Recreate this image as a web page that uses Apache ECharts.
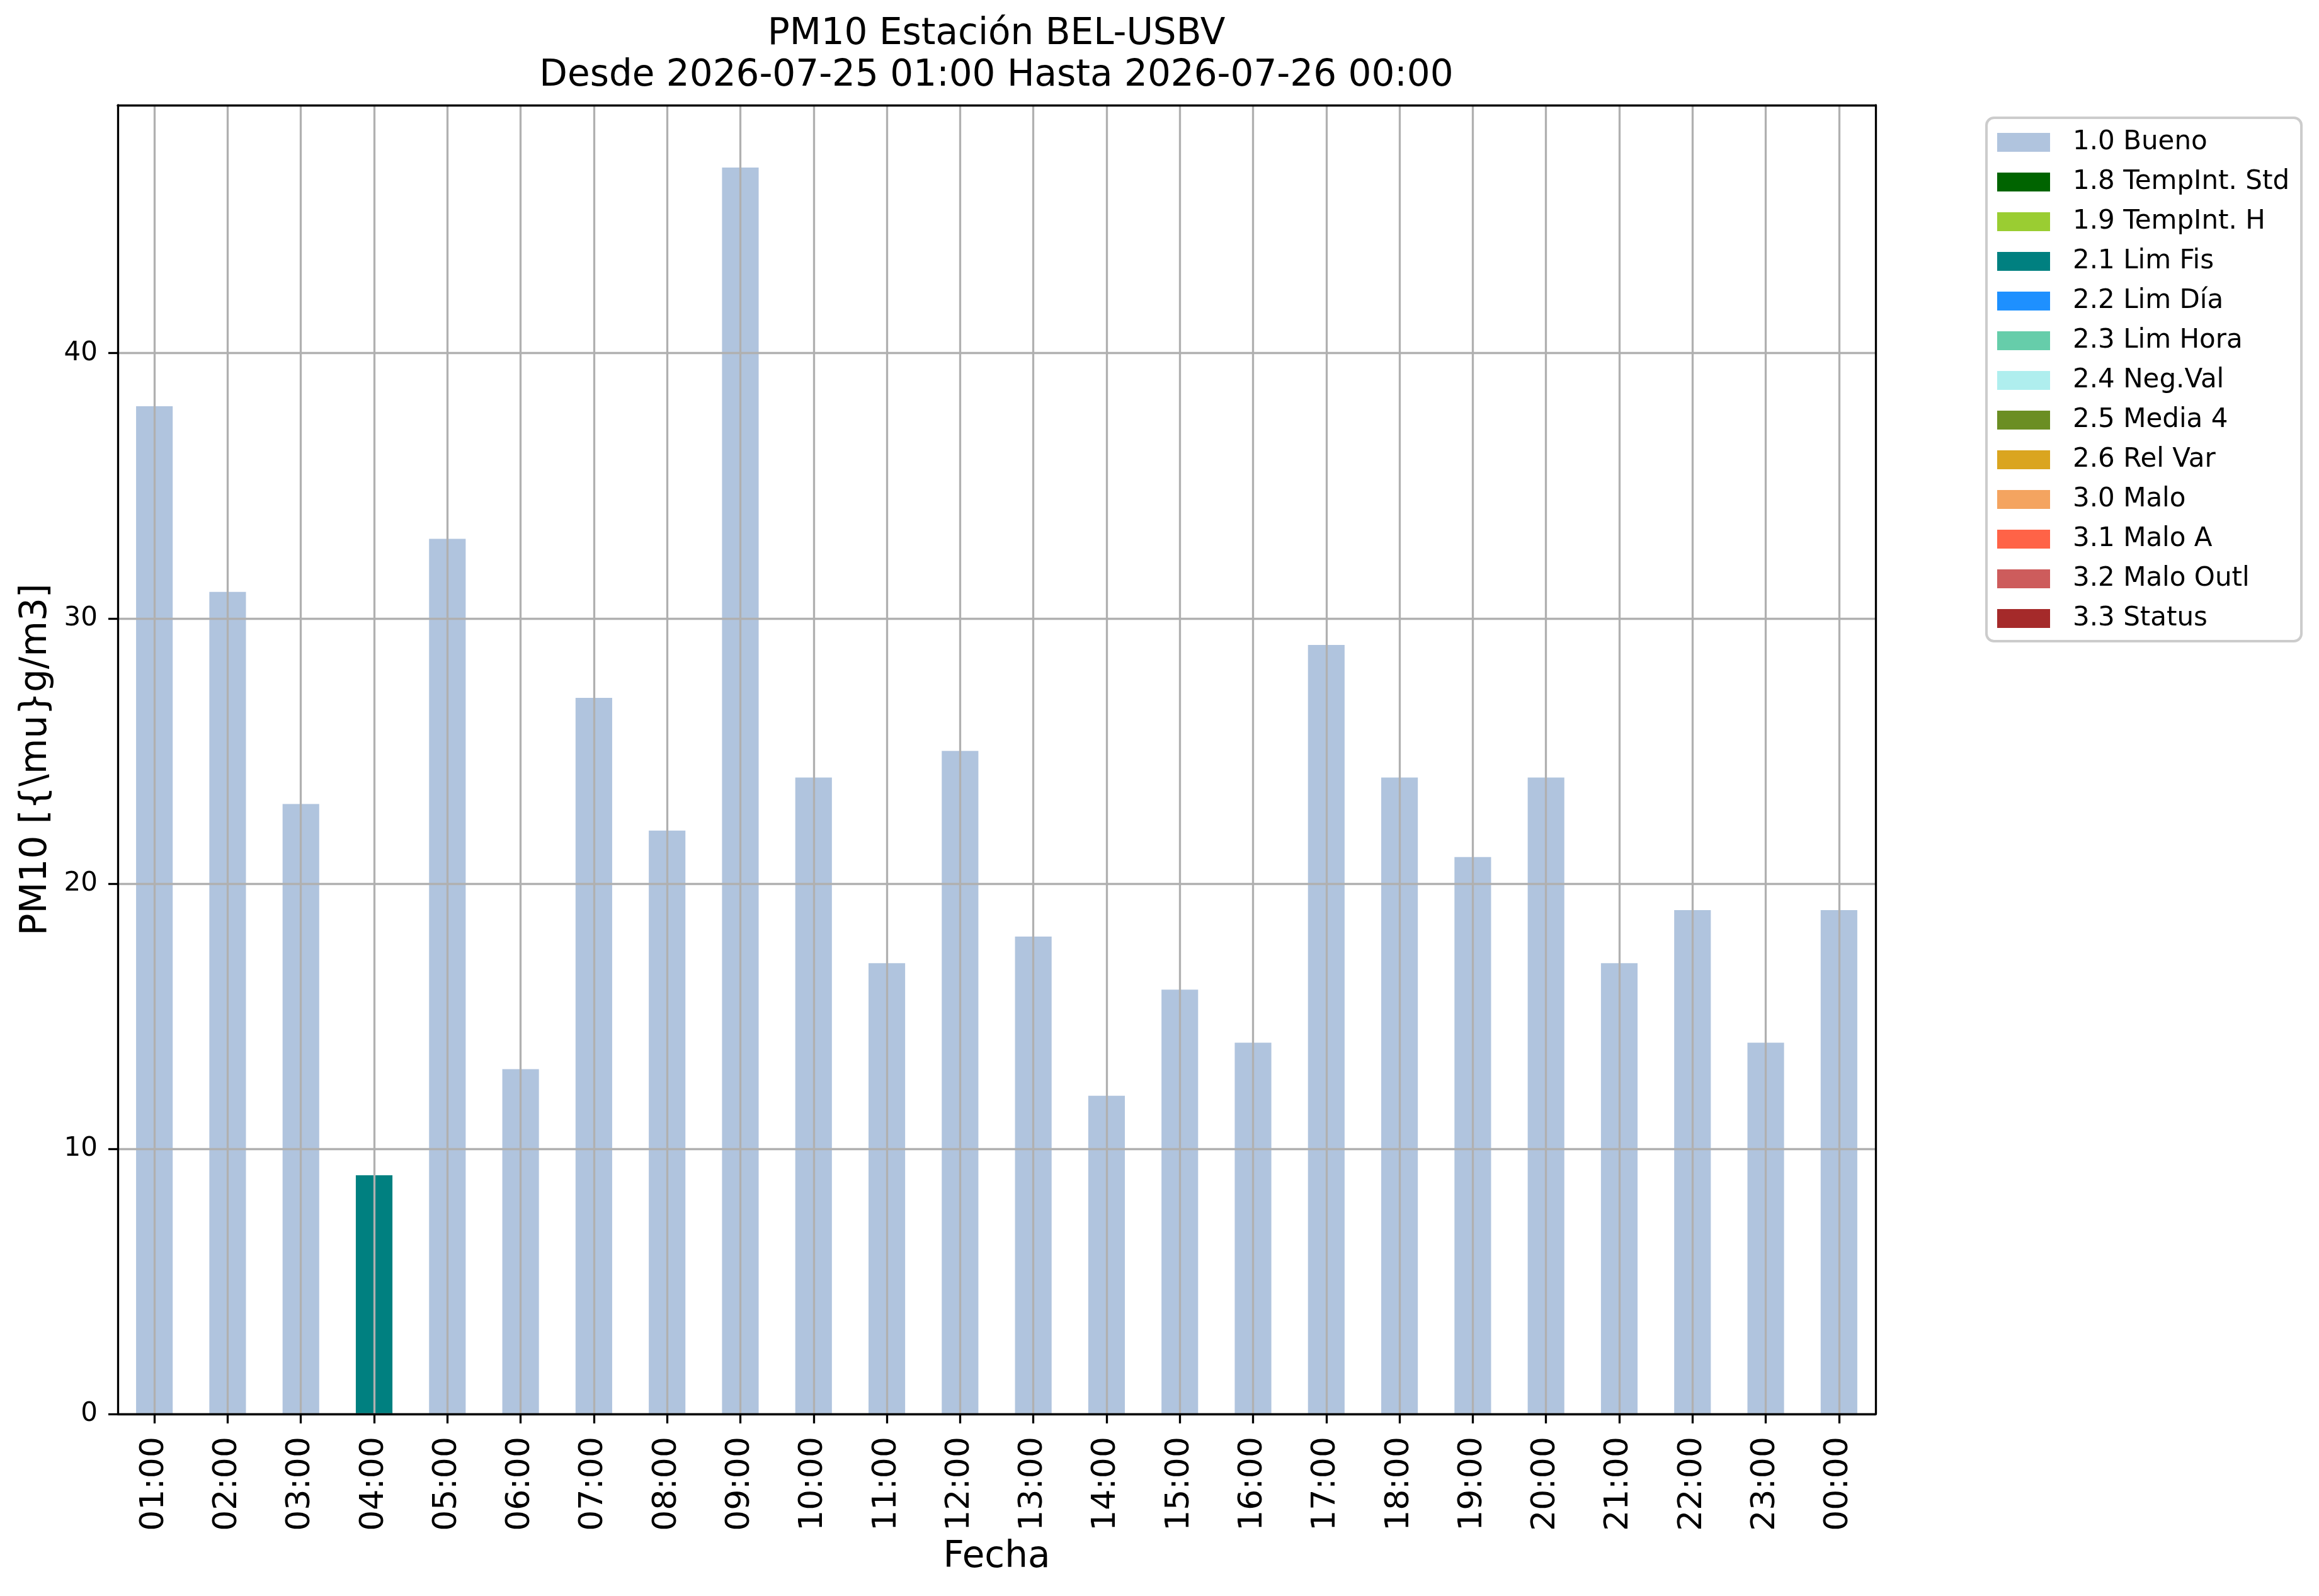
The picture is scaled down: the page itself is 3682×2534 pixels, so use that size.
<!DOCTYPE html>
<html>
<head>
<meta charset="utf-8">
<script src="https://cdn.jsdelivr.net/npm/echarts@6/dist/echarts.min.js"></script>
<style>
  html, body { margin: 0; padding: 0; background: #fff; }
  #chartArea { width: 3682px; height: 2534px; }
</style>
</head>
<body>
<div id="chartArea"></div>
<script>
// horas y valores
const hours = ['01:00', '02:00', '03:00', '04:00', '05:00', '06:00', '07:00', '08:00',
    '09:00', '10:00', '11:00', '12:00', '13:00', '14:00', '15:00', '16:00',
    '17:00', '18:00', '19:00', '20:00', '21:00', '22:00', '23:00', '00:00'];
const pm10 = [38, 31, 23, 9, 33, 13, 27, 22, 47, 24, 17, 25, 18, 12, 16, 14,
    29, 24, 21, 24, 17, 19, 14, 19];
// bandera de calidad de cada hora
const flags = ['1.0', '1.0', '1.0', '2.1', '1.0', '1.0', '1.0', '1.0',
    '1.0', '1.0', '1.0', '1.0', '1.0', '1.0', '1.0', '1.0',
    '1.0', '1.0', '1.0', '1.0', '1.0', '1.0', '1.0', '1.0'];

// categorias de la leyenda
const flagCodes = ['1.0', '1.8', '1.9', '2.1', '2.2', '2.3', '2.4', '2.5', '2.6', '3.0', '3.1', '3.2', '3.3'];
const flagNames = ['1.0 Bueno', '1.8 TempInt. Std', '1.9 TempInt. H', '2.1 Lim Fis', '2.2 Lim Día',
    '2.3 Lim Hora', '2.4 Neg.Val', '2.5 Media 4', '2.6 Rel Var', '3.0 Malo', '3.1 Malo A',
    '3.2 Malo Outl', '3.3 Status'];
const flagColors = ['#b0c4de', '#006400', '#9acd32', '#008080', '#1e90ff', '#66cdaa', '#afeeee',
    '#6b8e23', '#daa520', '#f4a460', '#ff6347', '#cd5c5c', '#a52a2a'];

const yTicks = [0, 10, 20, 30, 40];
const yMax = 49.35;

const FONT = 'DejaVu Sans';
const gridColor = '#b0b0b0';

const chart = echarts.init(document.getElementById('chartArea'));

// una serie apilada por bandera
const series = flagCodes.map(function(code, i) {
    return {
        name: flagNames[i],
        type: 'bar',
        stack: 'q',
        barWidth: '50%',
        xAxisIndex: 0,
        yAxisIndex: 0,
        itemStyle: { color: flagColors[i] },
        emphasis: { disabled: true },
        data: pm10.map(function(v, k) { return flags[k] === code ? v : '-'; })
    };
});

const option = {
    animation: false,
    backgroundColor: '#ffffff',
    textStyle: { fontFamily: FONT },
    title: {
        text: 'PM10 Estación BEL-USBV\nDesde 2026-07-25 01:00 Hasta 2026-07-26 00:00',
        left: 1582,
        top: 22,
        textAlign: 'center',
        padding: 0,
        textStyle: {
            fontFamily: FONT,
            fontSize: 58,
            fontWeight: 'normal',
            color: '#000',
            lineHeight: 66
        }
    },
    legend: {
        orient: 'vertical',
        left: 3154,
        top: 187,
        padding: [18, 19, 15, 17],
        itemWidth: 84,
        itemHeight: 30,
        itemGap: 21,
        icon: 'rect',
        selectedMode: false,
        borderColor: '#cccccc',
        borderWidth: 4,
        borderRadius: 12,
        backgroundColor: '#ffffff',
        textStyle: {
            fontFamily: FONT,
            fontSize: 42,
            color: '#000',
            lineHeight: 30,
            padding: [0, 0, 0, 31]
        },
        data: flagNames
    },
    grid: {
        left: 187,
        top: 167,
        right: 704,
        bottom: 289,
        containLabel: false
    },
    xAxis: [{
        type: 'category',
        data: hours,
        position: 'bottom',
        z: 6,
        name: 'Fecha',
        nameLocation: 'middle',
        nameGap: 199,
        nameTextStyle: { fontFamily: FONT, fontSize: 58, color: '#000' },
        axisLine: { show: true, lineStyle: { color: '#000', width: 3.3 } },
        axisTick: { show: true, alignWithLabel: true, inside: false, length: 15,
            lineStyle: { color: '#000', width: 3.3 } },
        axisLabel: { rotate: 90, interval: 0, margin: 36, fontFamily: FONT, fontSize: 52, color: '#000' },
        splitLine: { show: true, alignWithLabel: true, lineStyle: { color: gridColor, width: 3.3 } }
    }, {
        type: 'category',
        data: hours,
        position: 'top',
        z: 7,
        axisLine: { show: true, onZero: false, lineStyle: { color: '#000', width: 3.3 } },
        axisTick: { show: false },
        axisLabel: { show: false },
        splitLine: { show: false }
    }],
    yAxis: [{
        type: 'value',
        min: 0,
        max: yMax,
        interval: 10,
        position: 'left',
        z: 5,
        name: 'PM10 [{\\mu}g/m3]',
        nameLocation: 'middle',
        nameGap: 100,
        nameRotate: 90,
        nameTextStyle: { fontFamily: FONT, fontSize: 58, color: '#000' },
        axisLine: { show: true, lineStyle: { color: '#000', width: 3.3 } },
        axisTick: { show: true, length: 15, customValues: yTicks,
            lineStyle: { color: '#000', width: 3.3 } },
        axisLabel: { margin: 32, customValues: yTicks, fontFamily: FONT, fontSize: 42, color: '#000' },
        splitLine: { show: true, lineStyle: { color: gridColor, width: 3.3 } }
    }, {
        type: 'value',
        min: 0,
        max: yMax,
        position: 'right',
        z: 7,
        axisLine: { show: true, onZero: false, lineStyle: { color: '#000', width: 3.3 } },
        axisTick: { show: false },
        axisLabel: { show: false },
        splitLine: { show: false }
    }],
    series: series
};

chart.setOption(option);
</script>
</body>
</html>
